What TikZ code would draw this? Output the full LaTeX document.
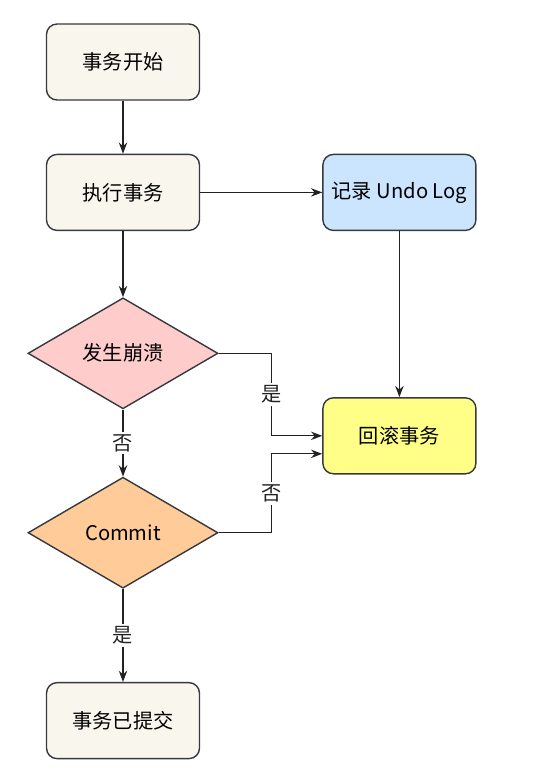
\documentclass[tikz,border=0pt]{standalone}
\usepackage{fontspec}
\setmainfont{Noto Sans CJK SC}
\usepackage{tikz}
\usetikzlibrary{shapes.geometric,arrows.meta,positioning}
\usepackage{xcolor}
\definecolor{edgecol}{RGB}{54,57,61}
\definecolor{beigecol}{RGB}{249,247,237}
\definecolor{bluecol}{RGB}{204,229,255}
\definecolor{pinkcol}{RGB}{255,204,204}
\definecolor{orangecol}{RGB}{255,204,153}
\definecolor{yellowcol}{RGB}{255,255,136}
\definecolor{linecol}{RGB}{34,34,34}

\begin{document}
\begin{tikzpicture}[
  node distance=1.06cm and 2.44cm, >=Stealth,
  bbox/.style={rectangle,rounded corners=6pt,draw=edgecol,line width=0.8pt,align=center,
    font=\fontsize{11.5}{13}\selectfont,minimum width=3.06cm,minimum height=1.52cm},
  procb/.style={bbox,fill=beigecol},
  logb/.style={bbox,fill=bluecol},
  rollb/.style={bbox,fill=yellowcol},
  decd/.style={diamond,draw=edgecol,line width=0.8pt,align=center,inner sep=0pt,
    font=\fontsize{11.5}{13}\selectfont,minimum width=3.8cm,minimum height=2.22cm},
  crashd/.style={decd,fill=pinkcol},
  commitd/.style={decd,fill=orangecol},
  arrow/.style={->,line width=0.75pt,color=linecol},
  lbl/.style={fill=white,inner sep=1.5pt,font=\fontsize{11.5}{13}\selectfont},
]
\useasboundingbox[fill=white] (0,0) rectangle (10.66,-15.38);
\node[procb] (start) at (2.46,-1.24) {事务开始};
\node[procb, below=of start] (exec) {执行事务};
\node[logb, right=of exec] (undo) {记录 Undo Log};
\node[crashd, below=1.32cm of exec] (crash) {发生崩溃};
\node[rollb, below=3.32cm of undo] (rollback) {回滚事务};
\node[commitd, below=1.34cm of crash] (commit) {Commit};
\node[procb, below=1.86cm of commit] (done) {事务已提交};

\draw[arrow] (start) -- (exec);
\draw[arrow] (exec) -- (undo);
\draw[arrow] (exec) -- (crash);
\draw[arrow] (undo) -- (rollback);
\draw[arrow] (crash) -- node[lbl]{否} (commit);
\draw[arrow] (crash.east) -- ++(1.06,0) |- node[lbl,pos=0.25]{是} (rollback.west);
\draw[arrow] (commit.east) -- ++(1.06,0) |- node[lbl,pos=0.25]{否} ([yshift=-0.36cm]rollback.west);
\draw[arrow] (commit) -- node[lbl]{是} (done);
\end{tikzpicture}
\end{document}
